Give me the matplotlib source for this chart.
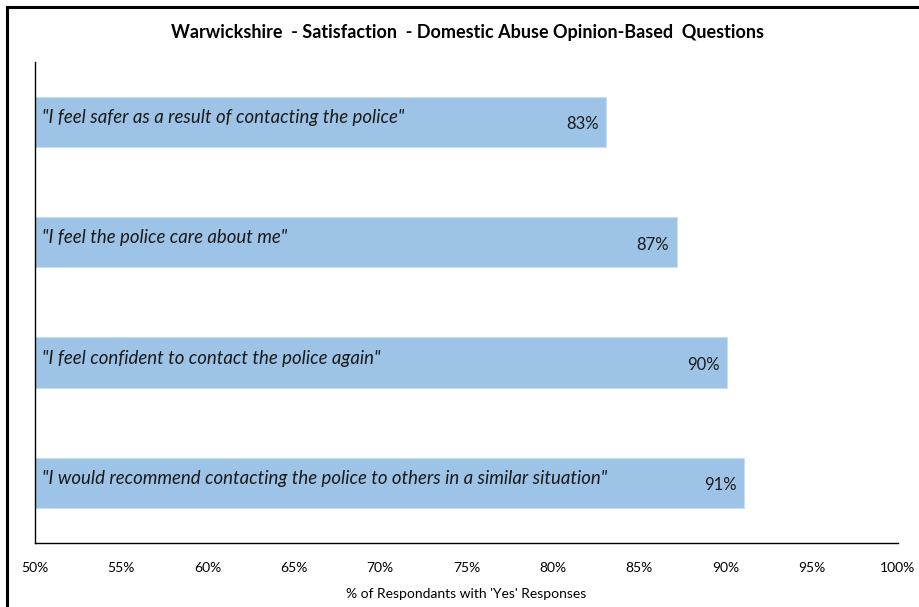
import matplotlib
matplotlib.use("Agg")
import matplotlib.pyplot as plt
from matplotlib.lines import Line2D

plt.rcParams['font.family'] = ['Lato', 'DejaVu Sans']

questions = [
    '"I feel safer as a result of contacting the police"',
    '"I feel the police care about me"',
    '"I feel confident to contact the police again"',
    '"I would recommend contacting the police to others in a similar situation"',
]
values = [83.1, 87.2, 90.1, 91.1]
value_labels = ['83%', '87%', '90%', '91%']
xticks = [50, 55, 60, 65, 70, 75, 80, 85, 90, 95, 100]

fig = plt.figure(figsize=(9.2, 6.07), dpi=100)
ax = fig.add_axes([0.038, 0.1054, 0.938, 0.793])

ypos = list(range(len(questions)))
ax.barh(ypos, [v - 50 for v in values], left=50, height=0.42,
        color='#9dc3e6', edgecolor='#c9def2', linewidth=0.8)
ax.set_ylim(len(questions) - 0.5, -0.5)
ax.set_xlim(50, 100)

for y, q, v, lab in zip(ypos, questions, values, value_labels):
    ax.text(50.4, y - 0.035, q, ha='left', va='center', style='italic',
            fontsize=13.4, color='#1a1a1a')
    ax.text(v - 0.45, y + 0.02, lab, ha='right', va='center',
            fontsize=12, color='#1a1a1a')

ax.set_xticks(xticks)
ax.set_xticklabels([f'{t}%' for t in xticks], fontsize=10)
ax.tick_params(axis='x', length=0, pad=14)
ax.set_yticks([])
ax.spines['top'].set_visible(False)
ax.spines['right'].set_visible(False)
ax.spines['left'].set_linewidth(1.0)
ax.spines['bottom'].set_linewidth(1.0)
ax.set_xlabel("% of Respondants with 'Yes' Responses", fontsize=10, labelpad=10)

fig.text(0.508, 0.946, 'Warwickshire  - Satisfaction  - Domestic Abuse Opinion-Based  Questions',
         ha='center', va='center', fontsize=13, fontweight='bold')

# outer chart frame (top and left edges visible)
fig.add_artist(Line2D([0.0075, 1.0], [0.988, 0.988], color='black', lw=2.2,
                      transform=fig.transFigure))
fig.add_artist(Line2D([0.0075, 0.0075], [0.0, 0.988], color='black', lw=2.2,
                      transform=fig.transFigure))

fig.savefig('out.png', dpi=100)
